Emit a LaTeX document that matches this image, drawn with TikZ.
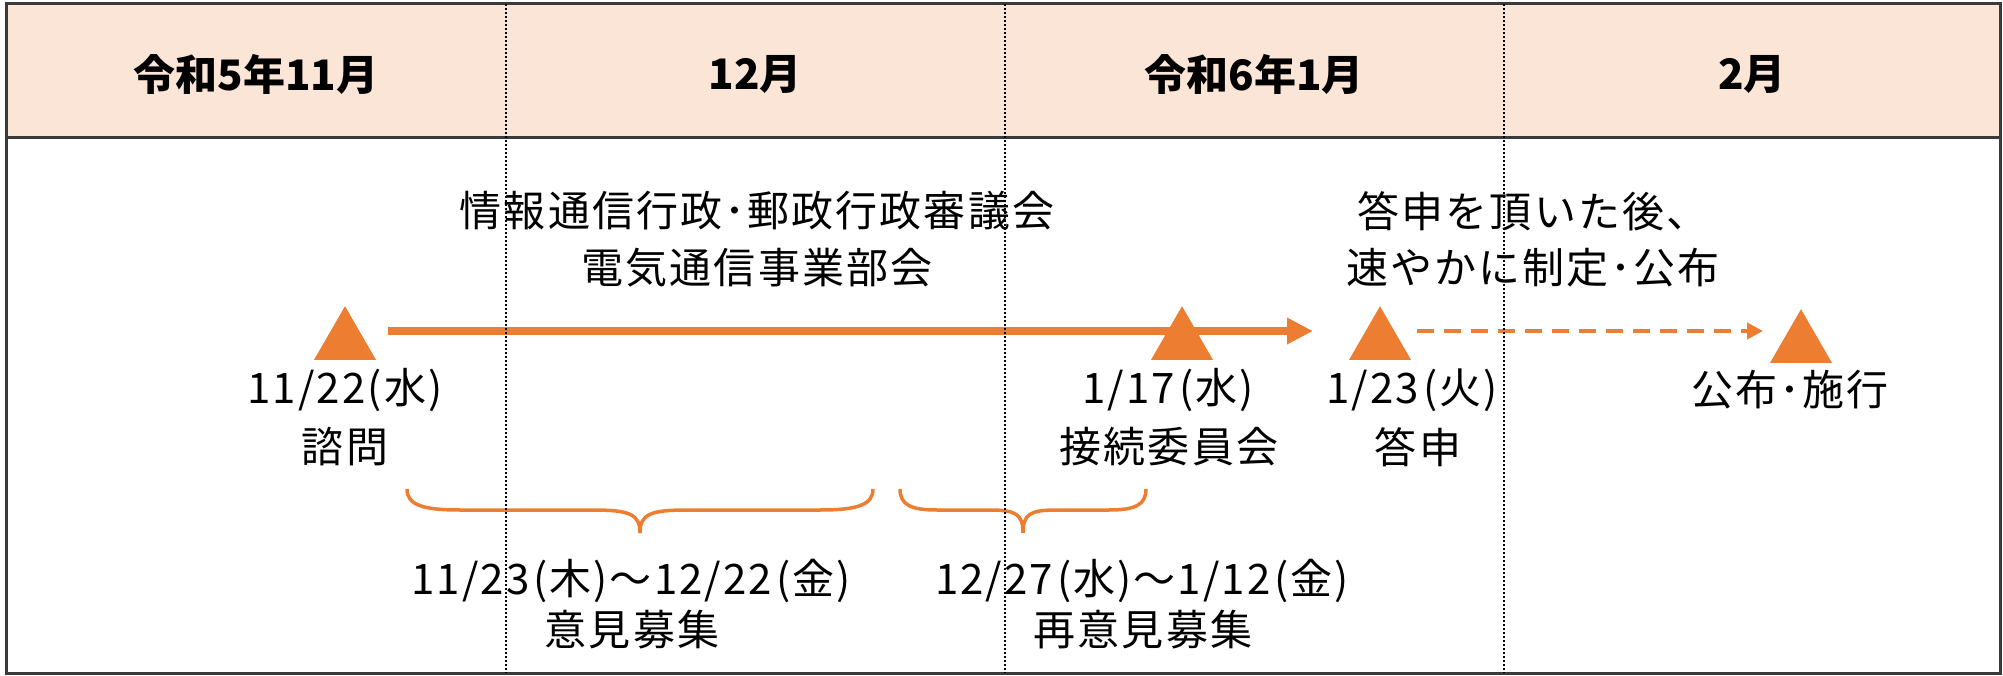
\documentclass[tikz,border=0pt]{standalone}
\usepackage{fontspec}
\setmainfont{Noto Sans CJK JP}
\usetikzlibrary{arrows.meta,shapes.geometric}
\definecolor{orng}{HTML}{ED7D31}
\definecolor{peach}{HTML}{FBE5D6}
\definecolor{frame}{HTML}{3A3A3A}
\tikzset{
  hdr/.style={font=\fontsize{42}{50}\selectfont\bfseries, anchor=center, inner sep=0pt},
  txt/.style={font=\fontsize{42}{50}\selectfont\addfontfeature{LetterSpace=5}, anchor=center, inner sep=0pt},
  tri/.style={regular polygon, regular polygon sides=3, minimum size=71.6pt, inner sep=0pt, fill=orng, draw=none},
  bigarrow/.style={draw=orng, line width=8pt, -{Triangle[length=26pt,width=25pt]}},
  dasharrow/.style={draw=orng, line width=4pt, dash pattern=on 17pt off 10pt, -{Triangle[length=16pt,width=16pt]}},
  bracestyle/.style={draw=orng, line width=3.5pt},
  sep/.style={draw=black, line width=2pt, dash pattern=on 2pt off 2pt},
}
\newcommand\fwparen[1]{\kern4pt(\kern2pt#1\kern2pt)\kern2pt}
\newcommand\drawbrace[3]{% x1, x2, corner radius
  \pgfmathsetmacro\xa{#1}\pgfmathsetmacro\xb{#2}\pgfmathsetmacro\xc{(#1+#2)/2}\pgfmathsetmacro\rr{#3}
  \draw[bracestyle] (\xa,489) .. controls (\xa,505) and ({\xa+0.3*\rr},510) .. ({\xa+\rr},510)
    -- ({\xc-0.9*\rr},510) .. controls ({\xc-0.2*\rr},510) and (\xc,514) .. (\xc,533)
    .. controls (\xc,514) and ({\xc+0.2*\rr},510) .. ({\xc+0.9*\rr},510)
    -- ({\xb-\rr},510) .. controls ({\xb-0.3*\rr},510) and (\xb,505) .. (\xb,489);
}
\begin{document}
\begin{tikzpicture}[x=1pt,y=-1pt]
\useasboundingbox (0,0) rectangle (2003,676);
% header band and frame
\fill[peach] (6,4) rectangle (2000,138);
\draw[frame, line width=3pt] (6,4) rectangle (2000,673);
\draw[frame, line width=3pt] (6,138) -- (2000,138);
% header texts
\node[hdr] (m1) at (256,74) {令和5年11月};
\node[hdr] (m2) at (755,74) {12月};
\node[hdr] (m3) at (1254,74) {令和6年1月};
\node[hdr] (m4) at (1752,74) {2月};
% upper texts
\node[txt] (council1) at (757,211) {情報通信行政･郵政行政審議会};
\node[txt] (council2) at (757,268) {電気通信事業部会};
\node[txt] (after1) at (1533,211) {答申を頂いた後、};
\node[txt] (after2) at (1533,268) {速やかに制定･公布};
% arrows
\coordinate (a1s) at (388,331);
\coordinate (a1e) at (1313,331);
\coordinate (a2s) at (1417,331);
\coordinate (a2e) at (1763,331);
\draw[bigarrow] (a1s) -- (a1e);
\draw[dasharrow] (a2s) -- (a2e);
% triangles
\node[tri] (t1) at (345,342) {};
\node[tri] (t2) at (1182,342) {};
\node[tri] (t3) at (1380,342) {};
\node[tri] (t4) at (1801,345) {};
% labels under triangles
\node[txt] (d1) at (345,390) {11/22(水)};
\node[txt] (e1) at (345,447) {諮問};
\node[txt] (d2) at (1169,390) {1/17\fwparen{水}};
\node[txt] (e2) at (1169,447) {接続委員会};
\node[txt] (d3) at (1413,390) {1/23\fwparen{火}};
\node[txt] (e3) at (1418,447) {答申};
\node[txt] (d4) at (1790,390) {公布･施行};
% braces
\drawbrace{407}{873}{53}
\drawbrace{900}{1146}{37}
% bottom labels
\node[txt] (p1) at (632,581) {11/23\fwparen{木}～12/22\fwparen{金}};
\node[txt] (q1) at (632,630) {意見募集};
\node[txt] (p2) at (1143,581) {12/27\fwparen{水}～1/12\fwparen{金}};
\node[txt] (q2) at (1143,630) {再意見募集};
% month separators
\draw[sep] (506,4) -- (506,673);
\draw[sep] (1005,4) -- (1005,673);
\draw[sep] (1504,4) -- (1504,673);
\end{tikzpicture}
\end{document}
